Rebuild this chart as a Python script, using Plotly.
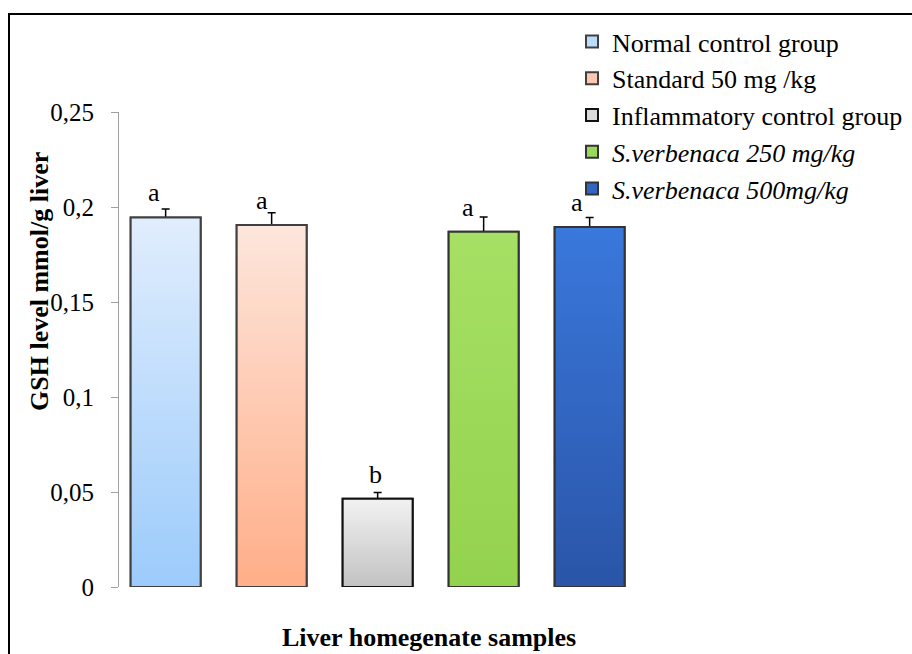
import plotly.graph_objects as go

# ---- data ----
groups = ["Normal control group", "Standard 50 mg /kg", "Inflammatory control group",
          "<i>S.verbenaca 250 mg/kg</i>", "<i>S.verbenaca 500mg/kg</i>"]
gsh_values = [0.1945, 0.1905, 0.0465, 0.187, 0.1895]
gsh_errors = [0.0045, 0.0065, 0.0033, 0.0078, 0.005]
sig_letters = ["a", "a", "b", "a", "a"]
y_ticks = [0, 0.05, 0.1, 0.15, 0.2, 0.25]
y_tick_labels = ["0", "0,05", "0,1", "0,15", "0,2", "0,25"]

# ---- style ----
top_colors = ["#e0edfd", "#fde6dc", "#f2f2f2", "#a6e064", "#3a78dc"]
bottom_colors = ["#9ccbfb", "#ffae88", "#c2c2c2", "#93d24e", "#2a55a8"]
mid_colors = ["#bcdcfc", "#fec8b0", "#dadada", "#9bd95a", "#3265c2"]
edge_colors = ["#404040", "#404040", "#111111", "#333333", "#333333"]
letter_xshift = [-12, -10, -2, -16, -13]
FONT = "Liberation Serif"
W, H = 912, 654
L, R, T, B = 119, 212, 112, 67
plot_w = W - L - R
plot_h = H - T - B
px_per_unit = 106.0
bar_w = 0.66
x_left = -0.44
x_right = x_left + plot_w / px_per_unit


def px_x(px):
    return (px - L) / plot_w


def px_y(py):
    return (H - B - py) / plot_h


fig = go.Figure()
xs = list(range(len(groups)))

for i, (name, v, e) in enumerate(zip(groups, gsh_values, gsh_errors)):
    fig.add_trace(go.Bar(
        x=[xs[i]], y=[v], name=name, width=bar_w,
        marker=dict(color=mid_colors[i], line=dict(color=edge_colors[i], width=2)),
        error_y=dict(type="data", array=[e], visible=True, color="black",
                     thickness=1.5, width=4),
        legendgroup=f"g{i}", showlegend=True, hoverinfo="skip",
    ))

# gradient fills over bars
for i, v in enumerate(gsh_values):
    x0, x1 = xs[i] - bar_w / 2, xs[i] + bar_w / 2
    fig.add_trace(go.Scatter(
        x=[x0, x1, x1, x0, x0], y=[0, 0, v, v, 0], mode="lines",
        fill="toself",
        fillgradient=dict(type="vertical",
                          colorscale=[[0, bottom_colors[i]], [1, top_colors[i]]]),
        line=dict(color=edge_colors[i], width=2),
        showlegend=False, hoverinfo="skip",
    ))

for i, (v, lab) in enumerate(zip(gsh_values, sig_letters)):
    fig.add_annotation(x=xs[i], y=v, xref="x", yref="y", text=lab, showarrow=False,
                       xanchor="center", yanchor="bottom",
                       xshift=letter_xshift[i], yshift=8,
                       font=dict(family=FONT, size=26, color="black"))

fig.add_annotation(x=px_x(39), y=px_y(282), xref="paper", yref="paper",
                   xanchor="center", yanchor="middle",
                   text="<b>GSH level mmol/g liver</b>", textangle=-90, showarrow=False,
                   font=dict(family=FONT, size=26, color="black"))
fig.add_annotation(x=px_x(429), y=px_y(637), xref="paper", yref="paper",
                   xanchor="center", yanchor="middle",
                   text="<b>Liver homegenate samples</b>", showarrow=False,
                   font=dict(family=FONT, size=26, color="black"))

fig.add_shape(type="rect", xref="paper", yref="paper",
              x0=px_x(9), y0=px_y(680), x1=px_x(940), y1=px_y(14),
              line=dict(color="black", width=2), fillcolor="rgba(0,0,0,0)", layer="above")

fig.update_layout(
    width=W, height=H,
    margin=dict(l=L, r=R, t=T, b=B, pad=0, autoexpand=False),
    paper_bgcolor="white", plot_bgcolor="white",
    font=dict(family=FONT, size=25, color="black"),
    xaxis=dict(range=[x_left, x_right], showline=False, showgrid=False, zeroline=False,
               showticklabels=False, ticks=""),
    yaxis=dict(range=[0, 0.25], tickvals=y_ticks, ticktext=y_tick_labels,
               showline=True, linecolor="#a0a0a0", linewidth=1,
               ticks="outside", ticklen=7, tickcolor="#a0a0a0", showgrid=False,
               zeroline=False, ticklabelstandoff=12,
               tickfont=dict(family=FONT, size=25, color="black")),
    legend=dict(x=px_x(572), y=px_y(18), xanchor="left", yanchor="top",
                bgcolor="rgba(0,0,0,0)", traceorder="grouped", tracegroupgap=0,
                font=dict(family=FONT, size=26, color="black")),
    showlegend=True,
)

fig.write_html("out.html", config={"displayModeBar": False},
               post_script="document.body.style.margin='0';document.body.style.overflow='hidden';")
